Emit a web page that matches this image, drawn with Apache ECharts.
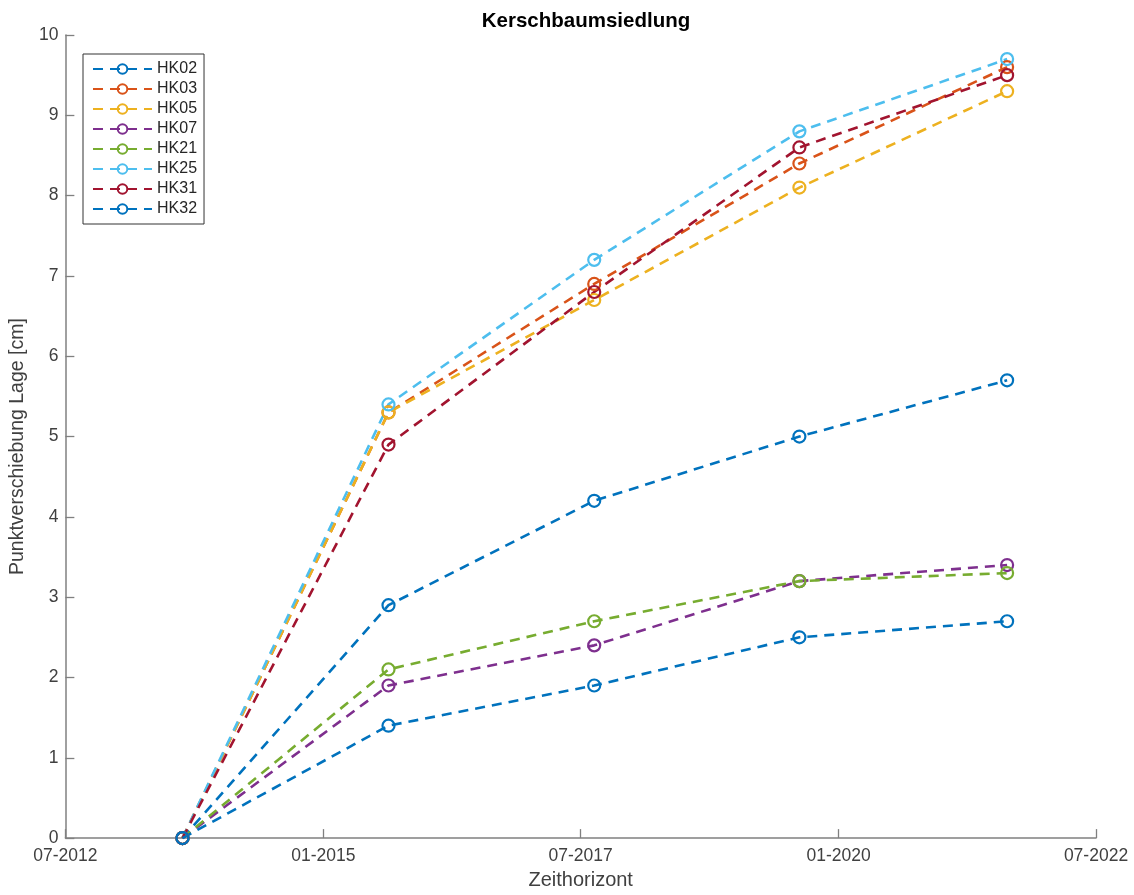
<!DOCTYPE html>
<html>
<head>
<meta charset="utf-8">
<script src="https://cdn.jsdelivr.net/npm/echarts@6/dist/echarts.min.js"></script>
<style>html,body{margin:0;padding:0;background:#fff;}#c{width:1134px;height:895px;}</style>
</head>
<body>
<div id="c"></div>
<script>
const dates = ['2013-08-20', '2015-08-20', '2017-08-18', '2019-08-15', '2021-08-20'];
const seriesNames = ['HK02', 'HK03', 'HK05', 'HK07', 'HK21', 'HK25', 'HK31', 'HK32'];
const HK02 = [0, 2.9, 4.2, 5.0, 5.7];
const HK03 = [0, 5.3, 6.9, 8.4, 9.6];
const HK05 = [0, 5.3, 6.7, 8.1, 9.3];
const HK07 = [0, 1.9, 2.4, 3.2, 3.4];
const HK21 = [0, 2.1, 2.7, 3.2, 3.3];
const HK25 = [0, 5.4, 7.2, 8.8, 9.7];
const HK31 = [0, 4.9, 6.8, 8.6, 9.5];
const HK32 = [0, 1.4, 1.9, 2.5, 2.7];
const xTicks = ['2012-07-01', '2015-01-01', '2017-07-01', '2020-01-01', '2022-07-01'];
const colors = ['#0072BD', '#D95319', '#EDB120', '#7E2F8E', '#77AC30', '#4DBEEE', '#A2142F', '#0072BD'];
const values = [HK02, HK03, HK05, HK07, HK21, HK25, HK31, HK32];

const ts = s => new Date(s + 'T00:00:00Z').getTime();
const axisColor = '#808080';
const textColor = '#404040';
const font = 'Liberation Sans, Arial, sans-serif';

const series = seriesNames.map((n, i) => ({
  name: n,
  type: 'line',
  data: dates.map((d, j) => [ts(d), values[i][j]]),
  symbol: 'circle',
  symbolSize: 12,
  showAllSymbol: true,
  lineStyle: { color: colors[i], width: 2.6, type: [10, 7] },
  itemStyle: { color: 'rgba(255,255,255,0)', borderColor: colors[i], borderWidth: 2.2 },
  emphasis: { disabled: true },
  animation: false
}));

const chart = echarts.init(document.getElementById('c'), null, { renderer: 'canvas' });
chart.setOption({
  backgroundColor: '#fff',
  animation: false,
  title: {
    text: 'Kerschbaumsiedlung',
    left: 581, top: 6, textAlign: 'center',
    textStyle: { fontFamily: font, fontSize: 20.5, fontWeight: 'bold', color: '#000' }
  },
  legend: {
    orient: 'vertical',
    left: 83, top: 54,
    data: seriesNames,
    itemWidth: 59, itemHeight: 12, itemGap: 4,
    padding: [7, 7, 7, 9],
    borderColor: '#333', borderWidth: 1, backgroundColor: '#fff',
    textStyle: { fontFamily: font, fontSize: 16, color: '#262626' }
  },
  grid: { left: 64, right: 38, top: 35, bottom: 51, containLabel: false },
  xAxis: {
    type: 'value',
    min: ts(xTicks[0]), max: ts(xTicks[xTicks.length - 1]),
    name: 'Zeithorizont', nameLocation: 'middle', nameGap: 31,
    nameTextStyle: { fontFamily: font, fontSize: 20, color: textColor },
    axisLine: { lineStyle: { color: axisColor, width: 1.5 } },
    axisTick: { inside: true, length: 9, customValues: xTicks.map(ts), lineStyle: { color: axisColor, width: 1.3 } },
    axisLabel: {
      customValues: xTicks.map(ts), margin: 9,
      fontFamily: font, fontSize: 17.5, color: textColor,
      formatter: v => { const d = new Date(v); return String(d.getUTCMonth() + 1).padStart(2, '0') + '-' + d.getUTCFullYear(); }
    },
    splitLine: { show: false }
  },
  yAxis: {
    type: 'value', min: 0, max: 10, interval: 1,
    name: 'Punktverschiebung Lage [cm]', nameLocation: 'middle', nameGap: 34, nameRotate: 90,
    nameTextStyle: { fontFamily: font, fontSize: 19.5, color: textColor, padding: [0, 20, 0, 0] },
    axisLine: { show: true, lineStyle: { color: axisColor, width: 1.5 } },
    axisTick: { show: true, inside: true, length: 9, lineStyle: { color: axisColor, width: 1.3 } },
    axisLabel: { fontFamily: font, fontSize: 17.5, color: textColor, margin: 7 },
    splitLine: { show: false }
  },
  series: series
});
</script>
</body>
</html>
